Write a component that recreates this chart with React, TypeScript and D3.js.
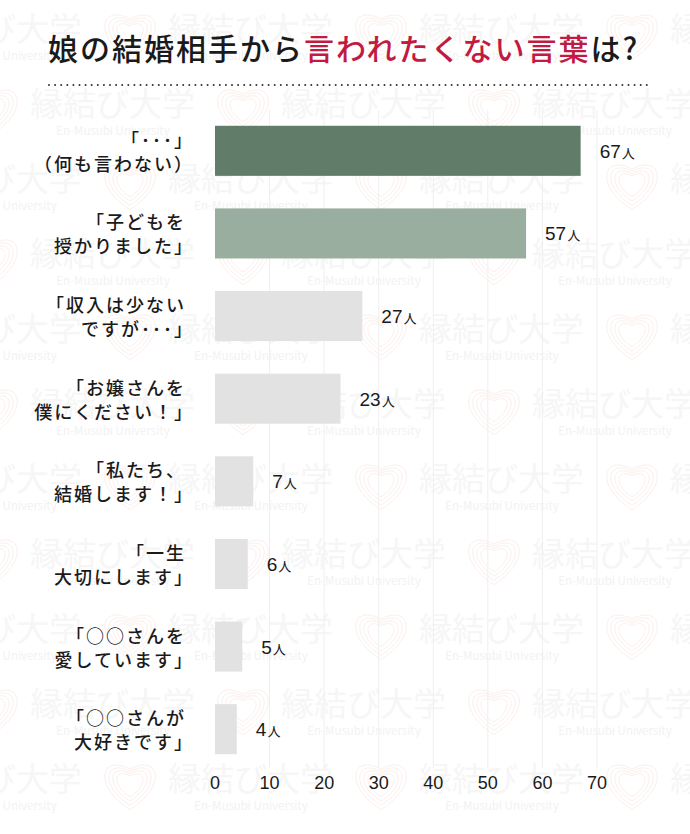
import { useEffect, useRef } from 'react';
import * as d3 from 'd3';

// chart data
const categories = [
  '「･･･」\n（何も言わない）',
  '「子どもを\n授かりました」',
  '「収入は少ない\nですが･･･」',
  '「お嬢さんを\n僕にください！」',
  '「私たち、\n結婚します！」',
  '「一生\n大切にします」',
  '「○○さんを\n愛しています」',
  '「○○さんが\n大好きです」',
];
const values = [67, 57, 27, 23, 7, 6, 5, 4];
const xTicks = [0, 10, 20, 30, 40, 50, 60, 70];
const barColors = ['#627c6a', '#9aae9f', '#e2e2e2', '#e2e2e2', '#e2e2e2', '#e2e2e2', '#e2e2e2', '#e2e2e2'];
const unit = '人';

const titleParts = [
  { text: '娘の結婚相手から', color: '#1a1a1a' },
  { text: '言われたくない言葉', color: '#c21a42' },
  { text: 'は?', color: '#1a1a1a' },
];

const width = 690;
const height = 834;
const FONT = '"Noto Sans CJK JP", "Noto Sans", sans-serif';
const NUM_FONT = '"Liberation Sans", Arial, sans-serif';

function heartPath(r: number) {
  return `M0,${0.95 * r} C${-1.35 * r},${0.1 * r} ${-1.05 * r},${-1.05 * r} 0,${-0.5 * r} C${1.05 * r},${-1.05 * r} ${1.35 * r},${0.1 * r} 0,${0.95 * r}Z`;
}

export default function App() {
  const svgRef = useRef<SVGSVGElement>(null);

  useEffect(() => {
    if (!svgRef.current) return;
    const svg = d3.select(svgRef.current);
    svg.selectAll('*').remove();

    svg.append('rect').attr('width', width).attr('height', height).attr('fill', '#fff');

    // watermark pattern (faint background)
    const wm = svg.append('g').attr('class', 'watermark');
    const period = 251;
    for (let i = 0; i < 12; i++) {
      const cy = 27 + 75 * i;
      const phase = i % 2 === 0 ? 168 : 30;
      for (let x = phase - period; x < width + 60; x += period) {
        wm.append('text')
          .attr('x', x)
          .attr('y', cy)
          .attr('dominant-baseline', 'central')
          .style('font-family', FONT)
          .style('font-size', '33px')
          .style('fill', '#f6f6f6')
          .text('縁結び大学');
        wm.append('text')
          .attr('x', x + 83)
          .attr('y', cy + 28)
          .attr('text-anchor', 'middle')
          .attr('dominant-baseline', 'central')
          .style('font-family', FONT)
          .style('font-size', '11.5px')
          .style('fill', '#f2f2f2')
          .text('En-Musubi University');
        const h = wm.append('g').attr('transform', `translate(${x - 38},${cy + 6})`);
        [28, 23.5, 19, 14.5].forEach(r => {
          h.append('path')
            .attr('d', heartPath(r))
            .attr('fill', 'none')
            .attr('stroke', '#fcefeb')
            .attr('stroke-width', 1);
        });
      }
    }

    // scales
    const x = d3.scaleLinear().domain([0, 70]).range([215, 597]);
    const y = d3.scaleBand<string>()
      .domain(categories)
      .range([101, 779])
      .paddingInner(0.394)
      .paddingOuter(0.3);

    // grid
    svg.append('g')
      .selectAll('line')
      .data(xTicks.slice(1))
      .join('line')
      .attr('x1', d => x(d))
      .attr('x2', d => x(d))
      .attr('y1', 110)
      .attr('y2', 768)
      .attr('stroke', '#efefef')
      .attr('stroke-width', 1);

    // title
    const title = svg.append('text')
      .attr('x', 48)
      .attr('y', 47)
      .attr('dominant-baseline', 'central')
      .style('font-family', FONT)
      .style('font-size', '30px')
      .style('font-weight', 500)
      .style('letter-spacing', '2px');
    titleParts.forEach(p => {
      title.append('tspan').attr('fill', p.color).text(p.text);
    });

    // dotted rule
    svg.append('line')
      .attr('x1', 49)
      .attr('x2', 652)
      .attr('y1', 85)
      .attr('y2', 85)
      .attr('stroke', '#333')
      .attr('stroke-width', 2)
      .attr('stroke-linecap', 'round')
      .attr('stroke-dasharray', '0 6.1');

    // bars
    svg.append('g')
      .selectAll('rect')
      .data(categories)
      .join('rect')
      .attr('x', x(0))
      .attr('y', d => y(d) ?? 0)
      .attr('width', (_, i) => x(values[i]) - x(0))
      .attr('height', y.bandwidth())
      .attr('fill', (_, i) => barColors[i]);

    // value labels
    const vl = svg.append('g')
      .selectAll('text')
      .data(categories)
      .join('text')
      .attr('x', (_, i) => x(values[i]) + 19)
      .attr('y', d => (y(d) ?? 0) + y.bandwidth() / 2)
      .attr('dominant-baseline', 'central')
      .style('fill', '#1a1a1a');
    vl.append('tspan')
      .style('font-family', NUM_FONT)
      .style('font-size', '19px')
      .text((_, i) => String(values[i]));
    vl.append('tspan')
      .style('font-family', FONT)
      .style('font-size', '13px')
      .attr('dx', 1)
      .attr('dy', 1)
      .text(unit);

    // category labels (ink right-aligned; closing brackets sit in the left half of the em box)
    const cl = svg.append('g')
      .selectAll('text')
      .data(categories)
      .join('text')
      .attr('text-anchor', 'end')
      .style('font-family', FONT)
      .style('font-size', '18px')
      .style('font-weight', 500)
      .style('letter-spacing', '2px')
      .style('fill', '#1a1a1a');
    cl.each(function (d) {
      const cy = (y(d) ?? 0) + y.bandwidth() / 2;
      const lines = d.split('\n');
      lines.forEach((ln, j) => {
        const closing = /[」）]$/.test(ln);
        d3.select(this).append('tspan')
          .attr('x', closing ? 194 : 186)
          .attr('y', cy + (j === 0 ? -12 : 12))
          .attr('dominant-baseline', 'central')
          .text(ln);
      });
    });

    // x axis labels
    svg.append('g')
      .selectAll('text')
      .data(xTicks)
      .join('text')
      .attr('x', d => x(d))
      .attr('y', 783)
      .attr('text-anchor', 'middle')
      .attr('dominant-baseline', 'central')
      .style('font-family', NUM_FONT)
      .style('font-size', '18px')
      .style('fill', '#1a1a1a')
      .text(d => String(d));
  }, []);

  return (
    <svg
      ref={svgRef}
      width={width}
      height={height}
      viewBox={`0 0 ${width} ${height}`}
      style={{ display: 'block', position: 'absolute', left: 0, top: 0 }}
    />
  );
}
